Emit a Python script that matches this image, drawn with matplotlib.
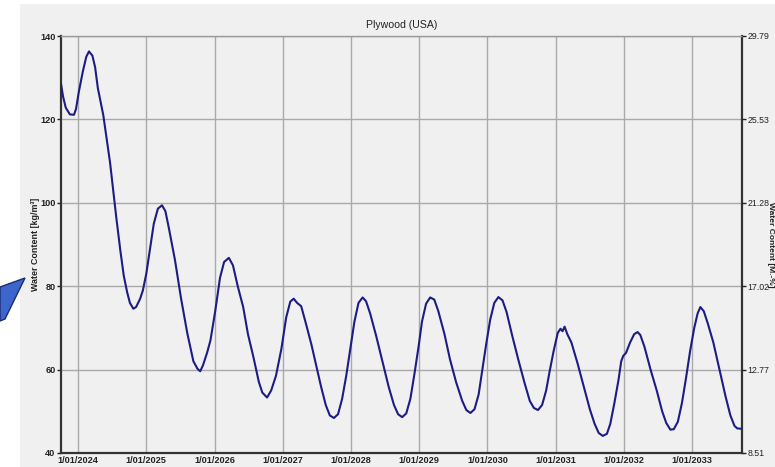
import matplotlib
matplotlib.use("Agg")
import matplotlib.pyplot as plt
from matplotlib.patches import Rectangle, Polygon

plt.rcParams['font.family'] = ['Liberation Sans', 'DejaVu Sans']

# ---- data (decimal year, water content kg/m3) ----
years = [
    2023.75, 2023.78, 2023.82, 2023.88, 2023.94, 2023.97, 2024.01, 2024.07, 2024.12, 2024.16,
    2024.21, 2024.25, 2024.29, 2024.37, 2024.47, 2024.56, 2024.62, 2024.67, 2024.72, 2024.76,
    2024.81, 2024.85, 2024.91, 2024.95, 2025.00, 2025.06, 2025.11, 2025.17, 2025.23, 2025.28,
    2025.33, 2025.42, 2025.51, 2025.60, 2025.69, 2025.75, 2025.79, 2025.83, 2025.89, 2025.94,
    2026.01, 2026.08, 2026.14, 2026.21, 2026.27, 2026.34, 2026.42, 2026.49, 2026.57, 2026.65,
    2026.70, 2026.77, 2026.83, 2026.90, 2026.98, 2027.05, 2027.11, 2027.16, 2027.21, 2027.27,
    2027.34, 2027.42, 2027.49, 2027.56, 2027.63, 2027.69, 2027.75, 2027.81, 2027.87, 2027.93,
    2027.99, 2028.05, 2028.11, 2028.17, 2028.22, 2028.28, 2028.37, 2028.46, 2028.55, 2028.63,
    2028.69, 2028.75, 2028.81, 2028.87, 2028.93, 2028.99, 2029.04, 2029.10, 2029.16, 2029.22,
    2029.28, 2029.37, 2029.45, 2029.54, 2029.63, 2029.69, 2029.75, 2029.81, 2029.87, 2029.92,
    2029.98, 2030.04, 2030.10, 2030.16, 2030.22, 2030.28, 2030.36, 2030.45, 2030.54, 2030.62,
    2030.68, 2030.74, 2030.80, 2030.86, 2030.91, 2030.97, 2031.03, 2031.07, 2031.10, 2031.13,
    2031.17, 2031.23, 2031.32, 2031.41, 2031.50, 2031.57, 2031.63, 2031.69, 2031.75, 2031.80,
    2031.86, 2031.92, 2031.96, 2031.99, 2032.03, 2032.09, 2032.15, 2032.20, 2032.24, 2032.30,
    2032.39, 2032.48, 2032.56, 2032.62, 2032.68, 2032.73, 2032.79, 2032.85, 2032.91, 2032.97,
    2033.03, 2033.08, 2033.12, 2033.17, 2033.23, 2033.31, 2033.40, 2033.49, 2033.56, 2033.62,
    2033.66, 2033.73,
]
water = [
    128.5, 125.5, 122.8, 121.2, 121.1, 122.5, 126.5, 131.5, 135.0, 136.3,
    135.3, 132.5, 127.5, 121.0, 109.5, 96.5, 88.5, 82.5, 78.5, 76.0,
    74.6, 75.0, 77.0, 79.0, 83.0, 89.5, 95.0, 98.6, 99.4, 98.0,
    94.0, 86.3, 77.0, 68.8, 62.0, 60.2, 59.6, 61.0, 64.0, 67.0,
    74.0, 82.0, 85.8, 86.8, 85.0, 80.0, 75.0, 68.5, 63.0, 57.0,
    54.5, 53.3, 55.0, 58.5, 65.0, 72.5, 76.3, 77.0, 76.0, 75.2,
    71.0, 66.0, 61.0, 56.0, 51.5, 49.0, 48.4, 49.3, 53.0, 58.5,
    65.0, 71.5, 76.0, 77.3, 76.4, 73.5, 68.0, 62.0, 56.0, 51.5,
    49.3, 48.6, 49.5, 53.0, 59.0, 65.5, 71.5, 75.8, 77.3, 76.8,
    74.0, 68.5, 62.5, 57.0, 52.5, 50.3, 49.6, 50.5, 54.0, 59.5,
    66.0, 72.0, 76.0, 77.4, 76.6, 73.8, 68.3, 62.5, 57.0, 52.5,
    50.8, 50.3, 51.5, 55.0, 59.5, 64.5, 68.8, 69.8, 69.2, 70.3,
    68.5, 66.5, 61.5, 56.0, 50.5, 47.0, 44.8, 44.1, 44.6, 47.0,
    52.0, 57.5, 62.0, 63.3, 64.0, 66.5, 68.5, 69.0, 68.3, 65.5,
    60.0, 55.0, 50.0, 47.2, 45.6, 45.7, 47.5, 52.0, 58.0, 64.5,
    70.0, 73.5, 75.0, 74.0, 71.0, 66.5, 60.0, 53.5, 49.0, 46.5,
    45.9, 45.8,
]
tick_years = [2024, 2025, 2026, 2027, 2028, 2029, 2030, 2031, 2032, 2033]
tick_labels = [f"1/01/{y}" for y in tick_years]
left_ticks = [40, 60, 80, 100, 120, 140]
right_ticks = [8.51, 12.77, 17.02, 21.28, 25.53, 29.79]

W, H = 775, 467
fig = plt.figure(figsize=(W / 100, H / 100), dpi=100, facecolor='white')

# gray panel (behind everything)
fig.patches.append(Rectangle((20 / W, 0), 1 - 20 / W, (H - 4) / H,
                             transform=fig.transFigure, facecolor='#f0f0f0',
                             edgecolor='none', zorder=-10))
# blue decoration at left edge
pts = [(0, 287), (25, 278), (5, 319), (0, 321)]
fig.patches.append(Polygon([(x / W, 1 - y / H) for x, y in pts], closed=True,
                           transform=fig.transFigure, facecolor='#3d66cc',
                           edgecolor='#1c2c70', linewidth=1.0, zorder=-5))

l, r, t, b = 61, 742, 36, 453
ax = fig.add_axes([l / W, (H - b) / H, (r - l) / W, (b - t) / H])
ax.set_facecolor('#f0f0f0')

ax.plot(years, water, color='#1c1c85', linewidth=1.5, zorder=3)

ax.set_xlim(2023.75, 2033.73)
ax.set_ylim(40, 140)
ax.set_xticks(tick_years)
ax.set_xticklabels(tick_labels)
ax.set_yticks(left_ticks)
ax.grid(True, color='#a9a9a9', linewidth=1.0, zorder=1)
ax.set_axisbelow(True)

for s in ['left', 'bottom', 'right']:
    ax.spines[s].set_color('#333333')
    ax.spines[s].set_linewidth(1.6)
ax.spines['top'].set_color('#9a9a9a')
ax.spines['top'].set_linewidth(1.0)

ax.tick_params(axis='x', length=0, pad=2, labelsize=6.6, colors='#222222')
ax.tick_params(axis='y', length=3, width=1, pad=1, labelsize=6.6, colors='#222222')
for lab in ax.get_xticklabels() + ax.get_yticklabels():
    lab.set_fontweight('bold')

ax2 = ax.twinx()
k = 29.79 / 140
ax2.set_ylim(40 * k, 140 * k)
ax2.set_yticks(right_ticks)
ax2.set_yticklabels([f"{v:.2f}" for v in right_ticks])
ax2.tick_params(axis='y', length=3, width=1, pad=1, labelsize=6.3, colors='#222222')
for s in ax2.spines.values():
    s.set_visible(False)

fig.text((l + r) / 2 / W, 1 - 25 / H, "Plywood (USA)", ha='center', va='center',
         fontsize=7.6, color='#222222')
fig.text(36 / W, 1 - 244 / H, "Water Content [kg/m³]", rotation=90, ha='center',
         va='center', fontsize=6.4, fontweight='bold', color='#222222')
fig.text(770.5 / W, 1 - 245 / H, "Water Content [M.-%]", rotation=270, ha='center',
         va='center', fontsize=6.0, fontweight='bold', color='#222222')

fig.savefig("out.png", dpi=100, facecolor='white')
